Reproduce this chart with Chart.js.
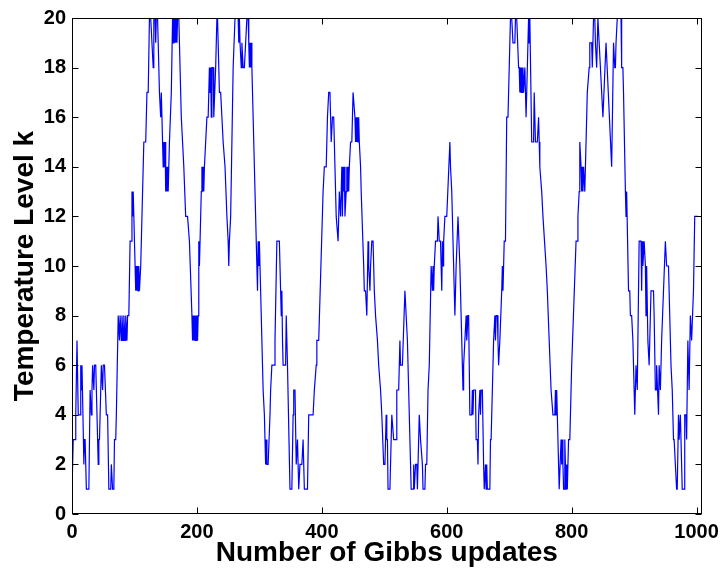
<!DOCTYPE html>
<html>
<head>
<meta charset="utf-8">
<script src="https://cdn.jsdelivr.net/npm/chart.js@4/dist/chart.umd.min.js"></script>
<style>
  html, body { margin: 0; padding: 0; background: #fff; }
  #wrap { width: 725px; height: 576px; }
</style>
</head>
<body>
<div id="wrap"><canvas id="c" width="725" height="576"></canvas></div>
<script>
// Gibbs update index (x) and the temperature level visited at that update (y)
const updates = [
  0,2,5,6,8,10,13,14,15,16,19,20,21,23,27,29,31,32,33,35,36,38,41,42,43,44,45,47,49,50,52,55,57,59,62,63,65,67,68,70,71,72,
  74,76,77,79,80,82,83,85,86,88,89,91,93,95,96,97,98,99,101,102,103,104,105,106,107,108,110,112,115,118,120,122,124,126,128,130,
  131,133,134,135,137,140,142,143,146,147,148,149,150,151,152,153,154,156,159,161,162,163,164,165,166,167,168,169,171,175,179,182,
  185,188,192,193,194,195,196,197,198,199,200,201,202,203,204,205,207,208,209,210,211,212,214,216,218,220,221,222,223,224,226,227,
  230,232,233,234,236,238,240,242,245,248,250,251,252,254,258,261,266,267,268,269,271,272,274,276,278,280,282,283,284,285,286,287,
  288,297,298,299,300,301,306,308,310,311,312,314,317,318,320,324,325,328,332,334,335,336,337,338,342,343,345,349,352,354,355,357,
  359,361,363,365,368,370,372,377,379,386,388,391,392,395,402,404,407,409,411,413,415,417,419,421,423,426,428,430,432,433,434,435,
  436,437,439,440,441,442,443,444,446,448,450,453,454,455,456,457,458,459,460,462,463,467,468,470,472,474,475,477,478,480,482,484,
  486,489,491,494,496,499,501,503,504,505,506,509,512,515,519,520,523,525,526,529,533,535,537,543,546,547,548,550,552,553,556,558,
  561,562,565,566,568,570,572,575,577,578,579,580,582,585,586,587,588,590,592,593,594,595,597,600,605,606,608,613,614,615,618,621,
  626,627,631,632,634,635,637,640,641,642,643,646,647,649,650,651,653,654,655,657,659,660,662,663,664,665,669,670,671,675,677,678,
  679,681,682,683,685,688,689,690,692,694,696,698,702,704,706,709,710,712,715,716,717,718,719,720,721,722,723,725,727,729,731,732,
  733,736,739,740,742,745,747,748,749,752,754,759,761,764,767,770,773,774,775,776,780,783,784,785,786,787,788,789,791,792,793,795,
  797,800,807,809,810,812,813,815,816,817,818,819,821,825,828,829,832,833,835,837,838,840,842,844,845,846,850,855,856,864,867,869,
  870,871,873,879,880,882,883,886,887,888,891,893,894,896,898,901,903,905,908,911,912,913,914,916,918,919,920,922,924,927,931,932,
  933,934,935,936,939,940,942,944,950,952,955,959,961,963,964,968,969,971,972,974,976,977,980,981,983,984,986,988,990,992,995,997,
  1002
];
const level = [
  1,3,3,4,7,4,4,6,5,6,2,3,3,1,1,5,4,5,6,5,6,6,3,2,3,3,4,6,5,6,6,4,4,1,1,2,1,1,3,3,4,4,
  8,7,8,7,8,7,8,7,8,7,8,8,11,11,13,12,13,13,10,9,10,9,10,9,10,9,10,12,15,15,17,17,20,20,19,18,
  20,20,19,20,20,17,16,17,14,15,14,15,13,14,13,14,13,15,17,20,19,20,19,20,19,20,19,20,20,16,14,12,
  12,11,8,7,8,7,8,7,8,7,8,7,8,11,10,11,13,14,13,14,13,14,15,16,16,18,17,18,16,18,18,16,
  18,20,20,19,17,17,16,15,14,12,11,10,11,12,18,20,20,19,20,19,18,19,18,18,19,20,20,19,18,19,18,19,
  18,9,11,10,11,10,5,4,2,3,2,2,4,5,6,6,7,11,11,9,8,9,7,6,6,8,6,1,1,4,5,5,
  2,3,1,2,2,3,1,1,4,4,5,6,7,7,13,14,14,16,17,17,15,16,16,14,12,11,13,12,14,12,14,13,
  14,12,13,14,13,14,13,14,15,15,17,16,15,16,15,16,15,16,15,14,13,10,9,9,8,11,10,9,10,11,11,9,
  8,7,6,5,4,2,2,4,3,3,1,1,4,3,3,5,5,7,6,6,9,8,7,1,1,2,1,2,2,1,4,3,
  2,1,1,2,2,5,6,10,9,10,9,10,11,11,12,12,11,11,9,11,10,11,12,12,15,14,13,8,9,10,12,10,
  5,6,8,7,8,8,4,4,5,4,5,5,3,3,2,4,5,4,5,5,2,1,2,1,2,1,1,3,3,7,8,7,
  8,8,7,6,7,9,10,9,11,11,16,16,20,20,19,19,20,20,18,18,17,18,17,18,17,18,17,18,16,18,20,19,
  20,15,15,17,15,15,16,15,14,13,12,10,9,7,5,4,4,5,4,5,1,3,2,3,2,1,1,3,1,2,1,3,
  3,6,11,11,12,13,15,14,13,14,13,14,13,17,18,19,19,18,20,20,19,18,20,19,19,18,16,19,19,14,19,18,
  18,19,20,20,18,18,17,13,12,13,9,9,8,8,7,4,6,5,11,11,9,11,10,11,10,8,10,7,6,9,9,8,
  8,5,5,6,4,6,5,7,11,10,10,6,5,3,3,1,1,4,3,4,2,1,1,4,4,3,7,5,8,7,9,12,
  12
];
const xTickValues = [0, 200, 400, 600, 800, 1000];
const xLabel = 'Number of Gibbs updates';
const yLabel = 'Temperature Level k';

const points = updates.map((u, i) => ({ x: u, y: level[i] }));

const tickFont = { family: '"Liberation Sans"', size: 20, weight: 'bold' };
const titleFont = { family: '"Liberation Sans"', size: 28, weight: 'bold' };

// Axes box with inward tick marks on all four sides
const boxFrame = {
  id: 'boxFrame',
  afterDatasetsDraw(chart) {
    const { ctx, chartArea: a, scales: { x, y } } = chart;
    const L = Math.round(a.left) + 0.5, R = Math.round(a.right) - 0.5;
    const T = Math.round(a.top) + 0.5, B = Math.round(a.bottom) - 0.5;
    const len = 6;
    ctx.save();
    ctx.strokeStyle = '#000';
    ctx.lineWidth = 1;
    ctx.strokeRect(L, T, R - L, B - T);
    ctx.beginPath();
    x.ticks.forEach(t => {
      const px = Math.round(x.getPixelForValue(t.value)) + 0.5;
      ctx.moveTo(px, B); ctx.lineTo(px, B - len);
      ctx.moveTo(px, T); ctx.lineTo(px, T + len);
    });
    y.ticks.forEach(t => {
      const py = Math.round(y.getPixelForValue(t.value)) + 0.5;
      ctx.moveTo(L, py); ctx.lineTo(L + len, py);
      ctx.moveTo(R, py); ctx.lineTo(R - len, py);
    });
    ctx.stroke();
    ctx.restore();
  }
};

new Chart(document.getElementById('c'), {
  type: 'line',
  data: {
    datasets: [{
      data: points,
      borderColor: 'rgb(0,0,255)',
      borderWidth: 1.2,
      pointRadius: 0,
      tension: 0,
      fill: false
    }]
  },
  options: {
    responsive: false,
    animation: false,
    devicePixelRatio: 1,
    layout: { padding: { top: 13, right: 19, bottom: 0, left: 0 } },
    plugins: { legend: { display: false }, tooltip: { enabled: false } },
    scales: {
      x: {
        type: 'linear',
        min: 0,
        max: 1008,
        afterBuildTicks: s => { s.ticks = xTickValues.map(v => ({ value: v })); },
        afterFit: s => { s.height = 62; },
        grid: { display: false, drawTicks: false },
        border: { display: false },
        ticks: { font: tickFont, color: '#000', padding: 6, maxRotation: 0, autoSkip: false,
                 callback: v => String(v) },
        title: { display: true, text: xLabel, font: titleFont, color: '#000', padding: { top: 0, bottom: 6 } }
      },
      y: {
        min: 0,
        max: 20,
        afterFit: s => { s.width = 72; },
        grid: { display: false, drawTicks: false },
        border: { display: false },
        ticks: { stepSize: 2, font: tickFont, color: '#000', padding: 6, callback: v => String(v) },
        title: { display: true, text: yLabel, font: titleFont, color: '#000', padding: { top: 8, bottom: 0 } }
      }
    }
  },
  plugins: [boxFrame]
});
</script>
</body>
</html>
